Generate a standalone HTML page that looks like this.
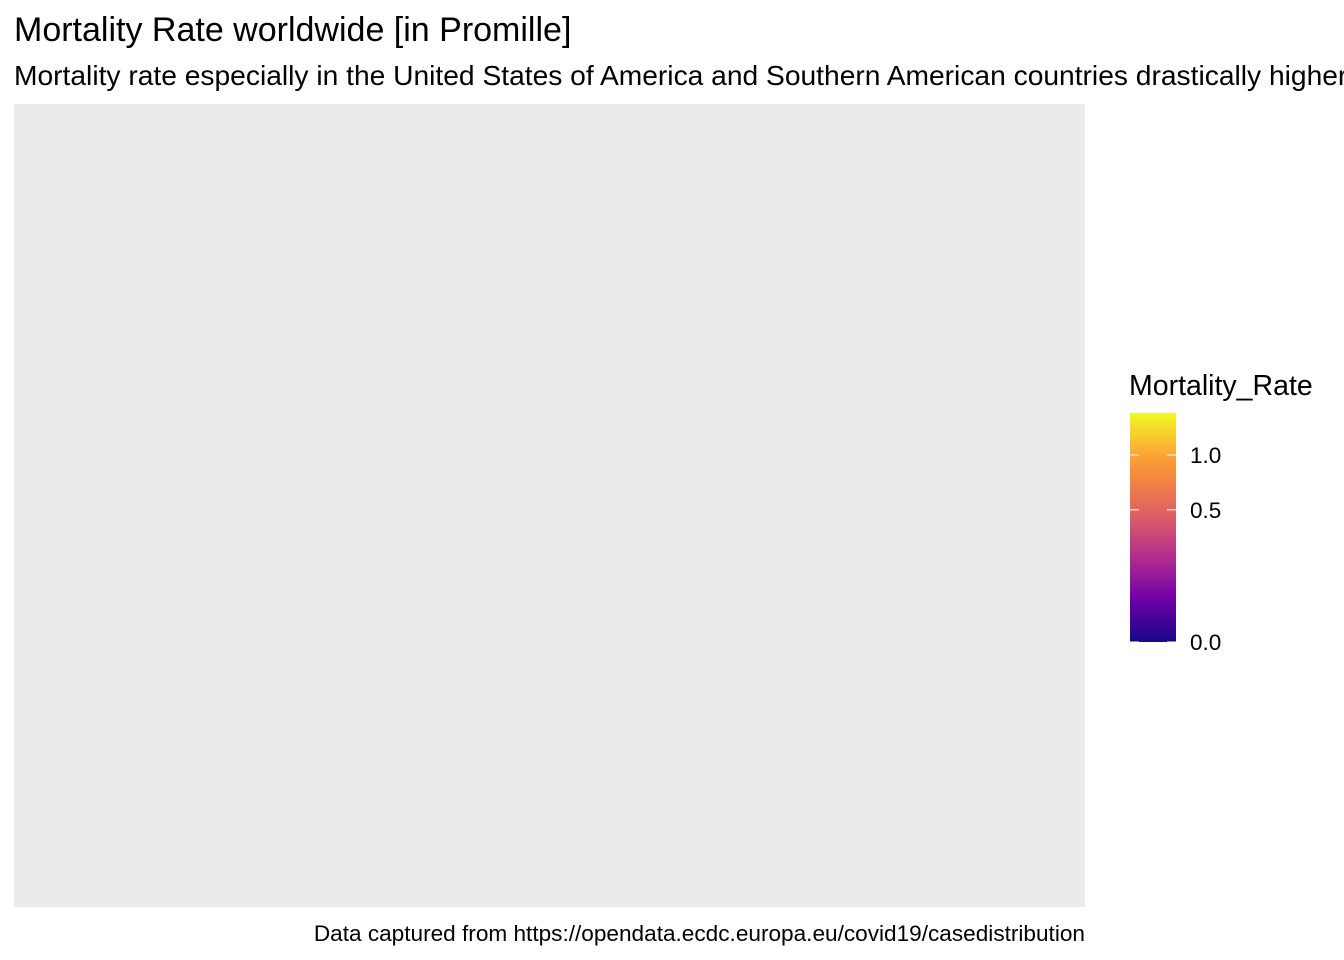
<!DOCTYPE html>
<html><head><meta charset="utf-8"><style>
body{margin:0;background:#fff;width:1344px;height:960px;overflow:hidden;font-family:"Liberation Sans",Arial,sans-serif}
svg{display:block}
</style></head><body>
<svg width="1344" height="960">
<defs><linearGradient id="plasma" x1="0" y1="1" x2="0" y2="0">
<stop offset="0" stop-color="#180886"/>
<stop offset="0.18" stop-color="#6a00a8"/>
<stop offset="0.36" stop-color="#b02a8f"/>
<stop offset="0.57" stop-color="#e06461"/>
<stop offset="0.72" stop-color="#f3883f"/>
<stop offset="0.82" stop-color="#fca636"/>
<stop offset="1" stop-color="#f0f921"/>
</linearGradient></defs>
<text x="14" y="41" font-size="34" fill="#000">Mortality Rate worldwide [in Promille]</text>
<text x="14" y="85" font-size="28.2" fill="#000">Mortality rate especially in the United States of America and Southern American countries drastically higher</text>
<rect x="14" y="104" width="1071" height="803" fill="#ebebeb"/>
<text x="1085" y="941" font-size="22.6" text-anchor="end" fill="#000">Data captured from https://opendata.ecdc.europa.eu/covid19/casedistribution</text>
<text x="1129" y="395" font-size="28.5" fill="#000">Mortality_Rate</text>
<rect x="1130" y="413" width="46" height="229" fill="url(#plasma)"/>
<g id="ticks"></g>
</svg>
<script>
const tickValues=[0.0,0.5,1.0];
const tickLabels=["0.0","0.5","1.0"];
const maxVal=1.5;
function y(v){return 642-229*Math.sqrt(v/maxVal);}
const g=document.getElementById('ticks');
const ns='http://www.w3.org/2000/svg';
tickValues.forEach((v,i)=>{
  const yy=y(v);
  [[1130,1139],[1167,1176]].forEach(([a,b])=>{
    const l=document.createElementNS(ns,'line');
    
    
    l.setAttribute('x1',a);l.setAttribute('x2',b);l.setAttribute('y1',yy);l.setAttribute('y2',yy);
    l.setAttribute('stroke','#fff');l.setAttribute('stroke-width','1');
    g.appendChild(l);
  });
  const t=document.createElementNS(ns,'text');
  
  
  t.setAttribute('x',1190);t.setAttribute('y',yy+8);
  t.setAttribute('font-size','22.5');
  t.textContent=tickLabels[i];
  g.appendChild(t);
});
</script>
</body></html>
